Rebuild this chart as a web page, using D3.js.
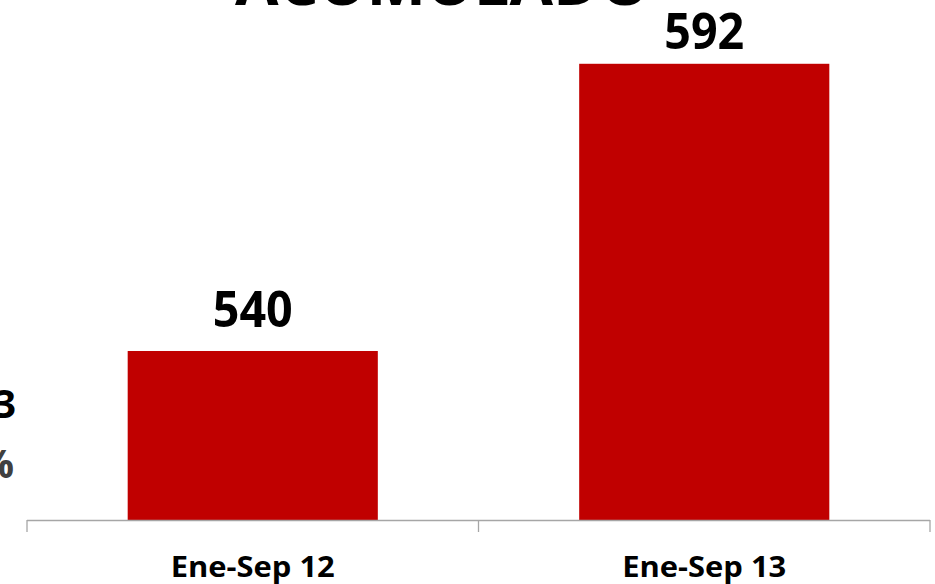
<!DOCTYPE html>
<html><head><meta charset="utf-8">
<script src="https://cdn.jsdelivr.net/npm/d3@7"></script>
<style>body{margin:0;background:#fff;overflow:hidden}svg{display:block}</style>
</head><body>
<script>
const categories = ["Ene-Sep 12", "Ene-Sep 13"];
const values = [540, 592];
const title = "ACUMULADO";
const sideLabels = ["3", "%"];

const W = 935, H = 584;
const svg = d3.select("body").append("svg").attr("width", W).attr("height", H);
const font = "'Open Sans', 'Liberation Sans', sans-serif";

const x = d3.scaleBand().domain(categories).range([27, 930]).padding(0);
const y = d3.scaleLinear().domain([509.4, 600]).range([520, 19.6]);
const barFrac = 0.554;

// title (cut off at top)
svg.append("text").text(title)
  .attr("x", 235).attr("y", 5)
  .attr("textLength", 415).attr("lengthAdjust", "spacingAndGlyphs")
  .attr("font-family", font).attr("font-weight", 700).attr("font-size", 62)
  .attr("fill", "#000");

// bars
svg.selectAll("rect.bar").data(values).join("rect")
  .attr("class", "bar")
  .attr("x", (d, i) => x(categories[i]) + x.bandwidth() * (1 - barFrac) / 2)
  .attr("width", x.bandwidth() * barFrac)
  .attr("y", d => y(d))
  .attr("height", d => y.range()[0] - y(d))
  .attr("fill", "#c00000");

// value labels (kept inside the plot top)
svg.selectAll("text.val").data(values).join("text")
  .attr("class", "val")
  .attr("x", (d, i) => x(categories[i]) + x.bandwidth() / 2 - 40)
  .attr("y", d => Math.max(y(d) - 24, 49))
  .attr("textLength", 80).attr("lengthAdjust", "spacingAndGlyphs")
  .attr("font-family", font).attr("font-weight", 700).attr("font-size", 50)
  .attr("fill", "#000")
  .text(d => d);

// axis line + ticks
const ax = svg.append("g").attr("stroke", "#a6a6a6").attr("stroke-width", 1.3);
ax.append("line").attr("x1", x.range()[0]).attr("x2", x.range()[1])
  .attr("y1", 520.5).attr("y2", 520.5);
const tickPos = categories.map(c => x(c)).concat([x.range()[1]]);
ax.selectAll("line.t").data(tickPos).join("line").attr("class", "t")
  .attr("x1", d => d).attr("x2", d => d).attr("y1", 520).attr("y2", 532);

// category labels
svg.selectAll("text.cat").data(categories).join("text")
  .attr("class", "cat")
  .attr("x", d => x(d) + x.bandwidth() / 2 - 82)
  .attr("y", 577)
  .attr("textLength", 164).attr("lengthAdjust", "spacingAndGlyphs")
  .attr("font-family", font).attr("font-weight", 700).attr("font-size", 28)
  .attr("fill", "#000")
  .text(d => d);

// cut-off side labels
svg.append("text").text(sideLabels[0])
  .attr("x", 16).attr("y", 418).attr("text-anchor", "end")
  .attr("font-family", font).attr("font-weight", 700).attr("font-size", 39)
  .attr("fill", "#000");
svg.append("text").text(sideLabels[1])
  .attr("x", 14).attr("y", 478).attr("text-anchor", "end")
  .attr("font-family", font).attr("font-weight", 700).attr("font-size", 40)
  .attr("fill", "#404040");
</script>
</body></html>
